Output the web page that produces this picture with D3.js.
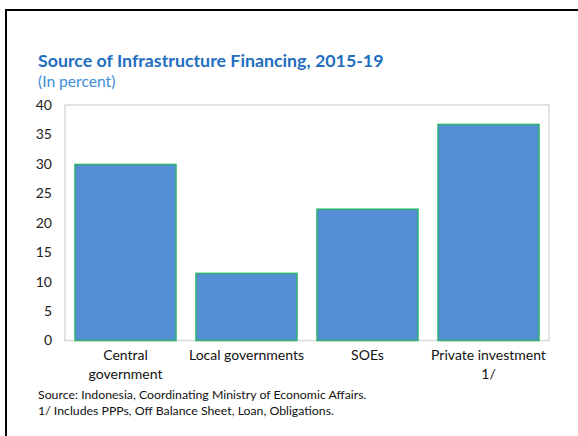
<!DOCTYPE html>
<html><head><meta charset="utf-8">
<script src="https://cdn.jsdelivr.net/npm/d3@7"></script>
<style>body{margin:0;background:#fff}svg{display:block}text{font-family:Lato,"Open Sans",sans-serif}</style>
</head><body>
<svg id="c" width="578" height="436"></svg>
<script>
const categories = [["Central","government"],["Local governments"],["SOEs"],["Private investment","1/"]];
const values = [29.9, 11.4, 22.3, 36.7];
const yTicks = [0,5,10,15,20,25,30,35,40];
const title = "Source of Infrastructure Financing, 2015-19";
const subtitle = "(In percent)";
const notes = ["Source: Indonesia, Coordinating  Ministry of Economic Affairs.","1/ Includes PPPs, Off Balance Sheet, Loan, Obligations."];

const svg = d3.select("#c");
svg.append("path").attr("d","M6,436V10H578").attr("fill","none").attr("stroke","#000").attr("stroke-width",2);

const L=65,R=549,T=105,B=340.5;
const x = d3.scaleBand().domain(d3.range(categories.length)).range([L,R]).paddingInner(0.165).paddingOuter(0.0825);
const y = d3.scaleLinear().domain([0,40]).range([B,T]);

svg.append("text").attr("x",38).attr("y",67).attr("fill","#1F6EBF").attr("font-weight","bold").attr("font-size",17.8).text(title);
svg.append("text").attr("x",38).attr("y",87).attr("fill","#3E8ED8").attr("font-size",15.6).text(subtitle);

svg.append("rect").attr("x",L).attr("y",T).attr("width",R-L).attr("height",B-T).attr("fill","none").attr("stroke","#D9D9D9").attr("stroke-width",1.5);

const ya = d3.axisLeft(y).tickValues(yTicks).tickSize(0).tickPadding(0);
const g = svg.append("g").attr("transform",`translate(52,0)`).call(ya);
g.select(".domain").remove();
g.selectAll("text").attr("font-size",14).attr("fill","#222").style("font-family","Lato,sans-serif");

svg.selectAll("rect.bar").data(values).join("rect").attr("class","bar")
  .attr("x",(d,i)=>x(i)).attr("width",x.bandwidth())
  .attr("y",d=>y(d)).attr("height",d=>B-y(d))
  .attr("fill","#558ED5").attr("stroke","#2BB36B").attr("stroke-width",1.5);

categories.forEach((lines,i)=>{
  lines.forEach((t,j)=>{
    svg.append("text").attr("x",x(i)+x.bandwidth()/2).attr("y",360+j*19).attr("text-anchor","middle").attr("font-size",14).attr("fill","#111").text(t);
  });
});
notes.forEach((t,j)=>{
  svg.append("text").attr("x",38).attr("y",399+j*15.5).attr("font-size",12.3).attr("fill","#111").text(t);
});
</script>
</body></html>
